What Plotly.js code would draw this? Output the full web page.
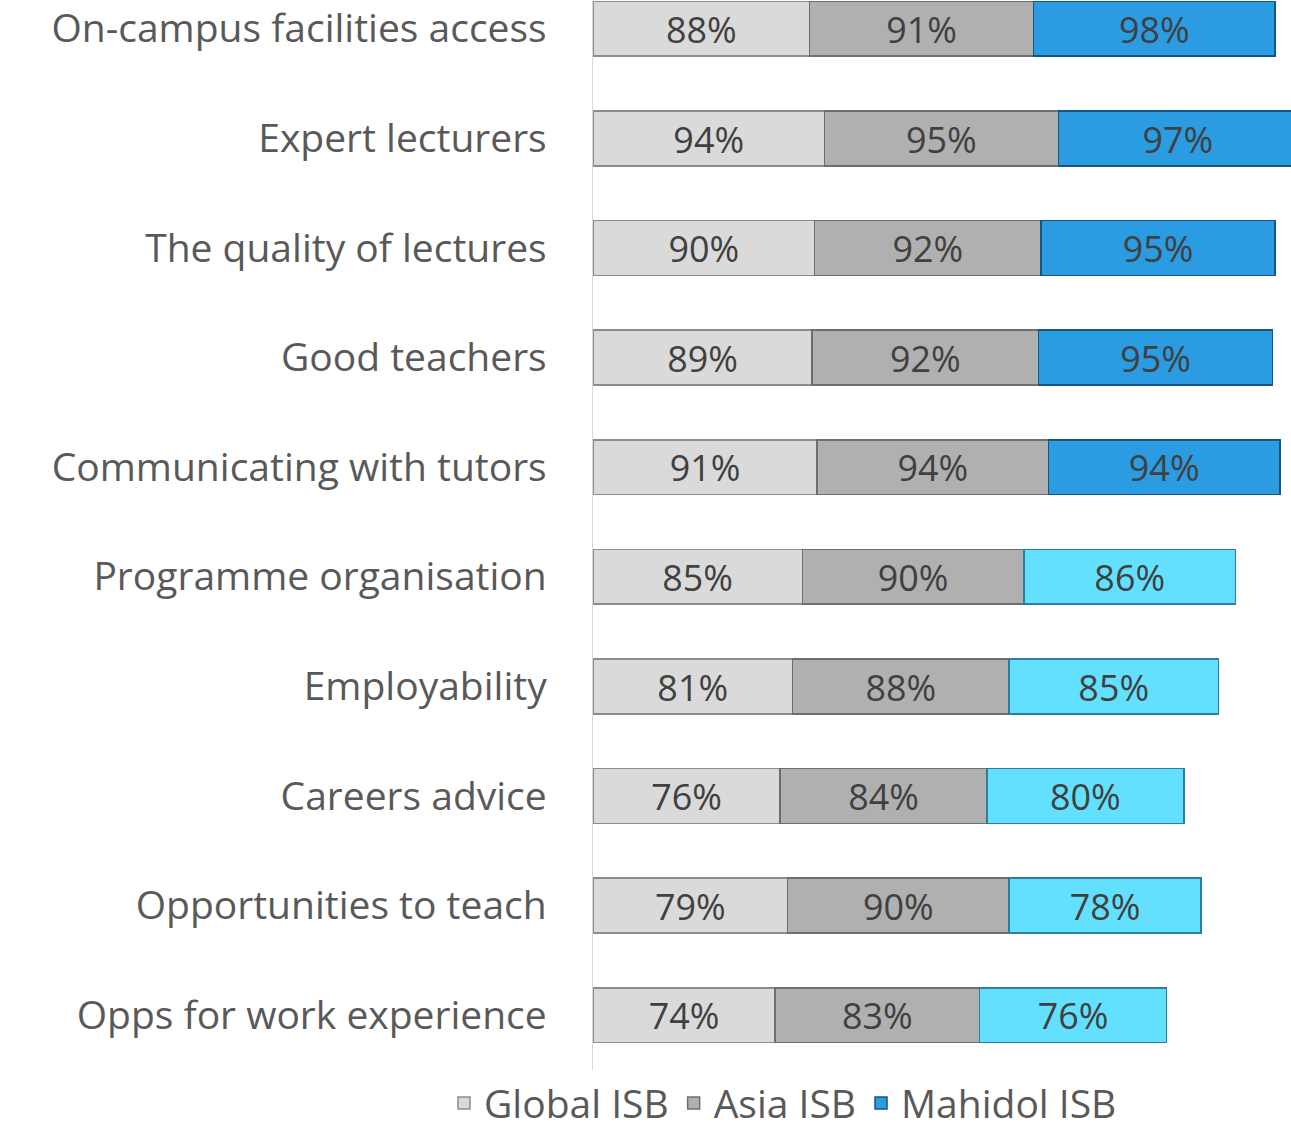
<!DOCTYPE html>
<html>
<head>
<meta charset="utf-8">
<script src="https://cdn.plot.ly/plotly-3.0.1.min.js"></script>
<style>html,body{margin:0;padding:0;background:#fff;}#chart{width:1291px;height:1128px;}</style>
</head>
<body>
<div id="chart"></div>
<script>
const categories = [
  "On-campus facilities access",
  "Expert lecturers",
  "The quality of lectures",
  "Good teachers",
  "Communicating with tutors",
  "Programme organisation",
  "Employability",
  "Careers advice",
  "Opportunities to teach",
  "Opps for work experience"
];
const globalISB  = [88, 94, 90, 89, 91, 85, 81, 76, 79, 74];
const asiaISB    = [91, 95, 92, 92, 94, 90, 88, 84, 90, 83];
const mahidolISB = [98, 97, 95, 95, 94, 86, 85, 80, 78, 76];
const seriesNames = ["Global ISB", "Asia ISB", "Mahidol ISB"];

const mahidolColors = mahidolISB.map((v, i) => i < 5 ? "#2b9be2" : "#62e0fd");
const mahidolLines = mahidolISB.map((v, i) => i < 5 ? "#17567f" : "#2a7f99");

const labelFont = {family: "Open Sans, sans-serif", size: 39, color: "#404040"};

function barTrace(name, values, color, lineColor) {
  return {
    type: "bar",
    orientation: "h",
    name: name,
    y: categories,
    x: values,
    marker: {color: color, line: {color: lineColor, width: 1.5}},
    texttemplate: "%{x}%",
    textposition: "inside",
    insidetextanchor: "middle",
    textfont: labelFont,
    insidetextfont: labelFont,
    hoverinfo: "none"
  };
}

const data = [
  barTrace(seriesNames[0], globalISB, "#dadada", "#8c8c8c"),
  barTrace(seriesNames[1], asiaISB, "#b0b0b0", "#6e6e6e"),
  barTrace(seriesNames[2], mahidolISB, mahidolColors, mahidolLines)
];

const layout = {
  width: 1291,
  height: 1128,
  barmode: "stack",
  bargap: 0.5,
  margin: {l: 593, r: 0, t: 0, b: 58},
  paper_bgcolor: "#ffffff",
  plot_bgcolor: "#ffffff",
  font: {family: "Open Sans, sans-serif", color: "#595959"},
  xaxis: {
    range: [0, 283.5],
    showgrid: false,
    zeroline: false,
    showticklabels: false,
    showline: false,
    fixedrange: true
  },
  yaxis: {
    type: "category",
    categoryorder: "array",
    categoryarray: categories,
    range: [9.5, -0.263],
    showgrid: false,
    zeroline: false,
    showline: true,
    linecolor: "#d9d9d9",
    linewidth: 1.5,
    ticks: "",
    ticklabelstandoff: 37,
    tickfont: {family: "Open Sans, sans-serif", size: 39, color: "#595959"},
    fixedrange: true
  },
  showlegend: true,
  legend: {
    orientation: "h",
    xref: "container",
    yref: "container",
    x: 0.6065,
    xanchor: "center",
    y: 0.022,
    yanchor: "middle",
    font: {family: "Open Sans, sans-serif", size: 39, color: "#595959"},
    itemwidth: 30,
    traceorder: "normal"
  }
};

Plotly.newPlot("chart", data, layout, {displayModeBar: false, staticPlot: true});
</script>
</body>
</html>
